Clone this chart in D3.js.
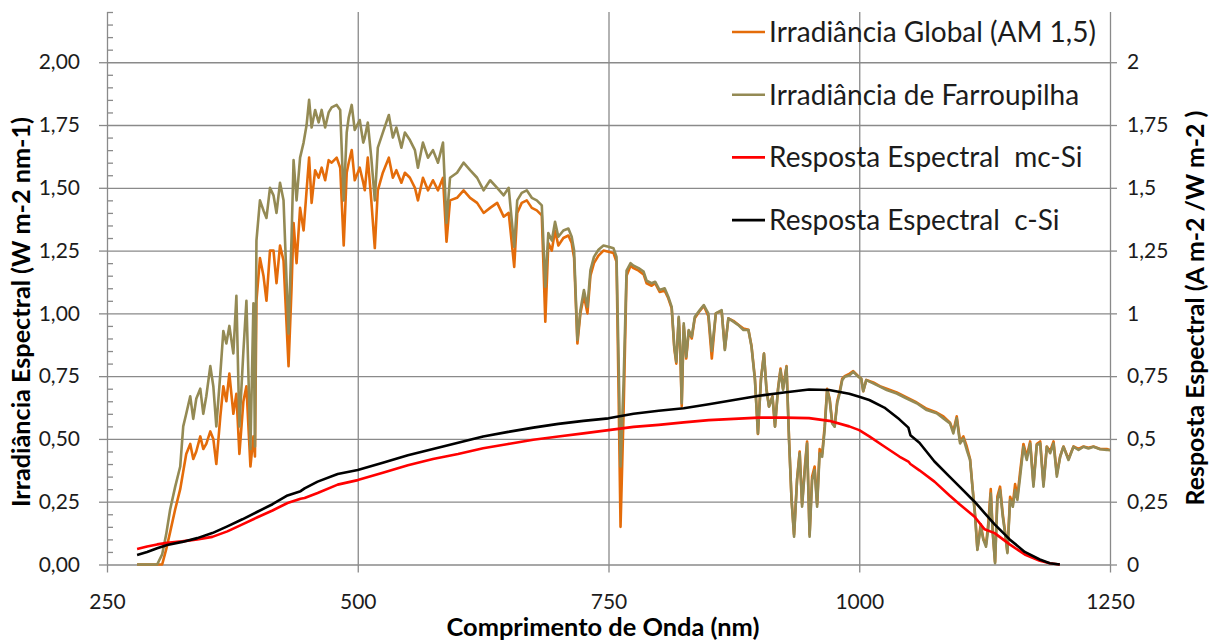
<!DOCTYPE html>
<html><head><meta charset="utf-8">
<script src="https://cdn.jsdelivr.net/npm/d3@7/dist/d3.min.js"></script>
<style>
html,body{margin:0;padding:0;background:#fff;}
svg{display:block;font-family:Lato,"Open Sans",sans-serif;}
</style></head><body>
<svg id="chart" width="1216" height="640"></svg>
<script>
// ---------- DATA ----------
const wavelengths = [
280, 290, 300, 305, 309, 313, 318, 323, 326, 329,
333, 336, 339, 343, 346, 349, 353, 356, 359, 363,
366, 369, 372, 376, 379, 382, 386, 389, 393, 396,
397.5, 399, 402.5, 406, 409, 412.5, 416, 419, 422.5, 426,
431, 434, 436, 439, 442.5, 446, 449, 451.5, 454, 457.5,
461, 464, 467.5, 471, 474, 479, 482.5, 486, 489, 491,
494, 497, 502, 505.5, 507, 510, 513.5, 517, 520, 525,
531, 535, 538.5, 543.5, 547, 552, 557, 560, 565, 570,
575, 580, 585, 588.5, 592, 599, 605.5, 612, 619, 625.5,
632, 639, 645.5, 650.5, 656, 659, 663.5, 668.5, 673.5, 678.5,
683.5, 687, 690, 693.5, 696.7, 700, 705, 710, 713.3, 715.7,
719, 722, 725.5, 729, 732, 735.5, 740, 745, 750, 755,
758, 760, 762, 765, 768, 772, 775, 780, 785, 788,
793, 796.5, 801, 806, 809.6, 813, 815.6, 817.6, 820, 821.5,
823, 825, 827.5, 830, 833, 836, 841, 845, 849.5, 853,
857, 862.8, 866, 869.5, 874.5, 879.5, 884.5, 889.5, 892.6, 896,
899, 902, 905, 907.5, 910, 913.5, 916, 919, 921.5, 924,
927.5, 930, 932.5, 935, 938, 940.6, 943, 946, 948, 950.5,
953, 955.5, 958, 960.5, 963, 965.5, 968, 970.5, 973, 975.5,
978, 980.5, 983, 985.5, 990.5, 994, 999, 1002, 1004, 1007,
1014, 1020.6, 1027.4, 1037.4, 1047.3, 1057.3, 1067.3, 1077.2, 1083.9, 1090.5,
1093.8, 1097.2, 1100.5, 1103.8, 1107.2, 1110.5, 1113.1, 1115.5, 1117.8, 1121.1,
1123.8, 1126.4, 1128.8, 1131.1, 1133.1, 1135.4, 1137.7, 1140.4, 1143.1, 1145.4,
1147.7, 1150.4, 1153.1, 1155.4, 1157.7, 1160.4, 1163.7, 1167, 1170.4, 1173.7,
1177, 1180.4, 1183.7, 1187, 1190.3, 1193.7, 1197, 1200.3, 1203.6, 1208.6,
1213.6, 1218.6, 1223.6, 1228.5, 1233.5, 1240.2, 1246.8, 1250
];
const irrGlobalAM15 = [
0, 0, 0, 0, 0.06, 0.13, 0.22, 0.30, 0.37, 0.44,
0.48, 0.42, 0.45, 0.51, 0.46, 0.48, 0.53, 0.50, 0.40, 0.59,
0.71, 0.65, 0.76, 0.60, 0.68, 0.44, 0.65, 0.71, 0.39, 0.51,
0.43, 1.05, 1.22, 1.15, 1.05, 1.25, 1.25, 1.12, 1.27, 1.21,
0.79, 1.10, 1.36, 1.20, 1.42, 1.33, 1.49, 1.62, 1.44, 1.57,
1.54, 1.58, 1.53, 1.61, 1.60, 1.62, 1.58, 1.27, 1.56, 1.60,
1.65, 1.53, 1.58, 1.52, 1.49, 1.62, 1.45, 1.26, 1.49, 1.56,
1.62, 1.54, 1.57, 1.52, 1.56, 1.54, 1.50, 1.45, 1.54, 1.49,
1.53, 1.49, 1.54, 1.285, 1.45, 1.46, 1.49, 1.46, 1.44, 1.40,
1.42, 1.44, 1.385, 1.40, 1.185, 1.40, 1.44, 1.45, 1.42, 1.41,
1.39, 0.967, 1.28, 1.25, 1.33, 1.27, 1.30, 1.31, 1.28, 1.22,
0.88, 1.0, 1.07, 1.0, 1.15, 1.20, 1.23, 1.25, 1.245, 1.24,
1.205, 0.70, 0.15, 0.60, 1.15, 1.19, 1.18, 1.17, 1.155, 1.12,
1.11, 1.12, 1.085, 1.09, 1.06, 1.02, 0.86, 0.80, 0.98, 0.86,
0.63, 0.95, 0.82, 0.93, 0.90, 0.98, 1.01, 1.03, 0.99, 0.82,
1.0, 1.01, 0.86, 0.98, 0.97, 0.955, 0.94, 0.935, 0.87, 0.74,
0.52, 0.74, 0.84, 0.70, 0.63, 0.67, 0.55, 0.70, 0.78, 0.70,
0.79, 0.50, 0.26, 0.12, 0.34, 0.45, 0.24, 0.40, 0.49, 0.12,
0.35, 0.39, 0.24, 0.46, 0.44, 0.55, 0.70, 0.66, 0.57, 0.55,
0.65, 0.69, 0.74, 0.75, 0.76, 0.77, 0.75, 0.74, 0.69, 0.735,
0.725, 0.71, 0.70, 0.685, 0.665, 0.645, 0.62, 0.605, 0.59, 0.565,
0.53, 0.59, 0.49, 0.51, 0.47, 0.42, 0.30, 0.20, 0.06, 0.16,
0.10, 0.08, 0.17, 0.30, 0.13, 0.01, 0.27, 0.31, 0.20, 0.13,
0.05, 0.27, 0.24, 0.32, 0.27, 0.37, 0.48, 0.43, 0.49, 0.32,
0.48, 0.49, 0.32, 0.47, 0.45, 0.49, 0.36, 0.43, 0.47, 0.42,
0.47, 0.46, 0.47, 0.465, 0.47, 0.46, 0.46, 0.455
];
const irrFarroupilha = [
0, 0, 0, 0.04, 0.12, 0.22, 0.31, 0.39, 0.55, 0.60,
0.67, 0.58, 0.66, 0.70, 0.60, 0.67, 0.79, 0.71, 0.55, 0.76,
0.93, 0.88, 0.95, 0.84, 1.07, 0.55, 0.85, 1.05, 0.46, 1.04,
0.47, 1.29, 1.45, 1.41, 1.38, 1.50, 1.47, 1.40, 1.52, 1.45,
0.92, 1.30, 1.61, 1.45, 1.62, 1.68, 1.75, 1.85, 1.74, 1.81,
1.76, 1.81, 1.74, 1.80, 1.82, 1.83, 1.81, 1.45, 1.72, 1.78,
1.83, 1.73, 1.77, 1.68, 1.70, 1.76, 1.62, 1.45, 1.66, 1.72,
1.79, 1.70, 1.74, 1.66, 1.72, 1.69, 1.65, 1.58, 1.68, 1.62,
1.65, 1.60, 1.68, 1.36, 1.54, 1.56, 1.60, 1.57, 1.54, 1.49,
1.53, 1.50, 1.47, 1.50, 1.265, 1.45, 1.48, 1.49, 1.46, 1.45,
1.43, 1.106, 1.32, 1.29, 1.365, 1.305, 1.33, 1.338, 1.305, 1.25,
0.894, 1.013, 1.093, 1.026, 1.172, 1.225, 1.253, 1.27, 1.265, 1.259,
1.225, 0.827, 0.39, 0.72, 1.17, 1.20, 1.19, 1.18, 1.166, 1.13,
1.12, 1.126, 1.093, 1.10, 1.066, 1.026, 0.867, 0.807, 0.986, 0.867,
0.642, 0.96, 0.827, 0.934, 0.907, 0.986, 1.013, 1.033, 1.0, 0.85,
1.0, 1.013, 0.854, 0.98, 0.967, 0.953, 0.934, 0.934, 0.867, 0.734,
0.522, 0.734, 0.84, 0.695, 0.628, 0.668, 0.549, 0.695, 0.774, 0.695,
0.787, 0.496, 0.257, 0.111, 0.336, 0.443, 0.23, 0.389, 0.482, 0.111,
0.336, 0.376, 0.23, 0.443, 0.429, 0.535, 0.695, 0.655, 0.562, 0.549,
0.642, 0.681, 0.734, 0.748, 0.754, 0.767, 0.748, 0.74, 0.69, 0.734,
0.721, 0.708, 0.695, 0.681, 0.661, 0.642, 0.615, 0.602, 0.582, 0.562,
0.522, 0.582, 0.482, 0.502, 0.456, 0.416, 0.297, 0.19, 0.058, 0.15,
0.098, 0.071, 0.15, 0.283, 0.124, 0.005, 0.257, 0.297, 0.19, 0.124,
0.045, 0.257, 0.23, 0.297, 0.257, 0.35, 0.469, 0.416, 0.482, 0.31,
0.476, 0.482, 0.31, 0.469, 0.443, 0.482, 0.35, 0.429, 0.469, 0.416,
0.469, 0.456, 0.469, 0.462, 0.469, 0.459, 0.456, 0.456
];
const respWavelengths = [
280, 290, 300, 310, 325, 340, 355, 370, 385, 400,
415, 430, 443, 447, 460, 480, 500, 525, 550, 575,
600, 625, 650, 675, 700, 725, 750, 775, 800, 825,
850, 875, 900, 925, 950, 970, 990, 1000, 1010, 1025,
1040, 1049, 1051, 1060, 1075, 1090, 1100, 1115, 1125, 1135,
1150, 1165, 1180, 1190, 1200
];
const respMcSi = [
0.062, 0.072, 0.08, 0.086, 0.092, 0.1, 0.11, 0.132, 0.16, 0.188,
0.215, 0.245, 0.262, 0.265, 0.285, 0.318, 0.336, 0.365, 0.395, 0.42,
0.44, 0.463, 0.48, 0.497, 0.51, 0.522, 0.535, 0.548, 0.556, 0.566,
0.575, 0.58, 0.585, 0.585, 0.583, 0.572, 0.55, 0.535, 0.51, 0.47,
0.43, 0.41, 0.40, 0.375, 0.33, 0.275, 0.24, 0.19, 0.14, 0.125,
0.08, 0.04, 0.015, 0.005, 0
];
const respCSi = [
0.038, 0.05, 0.065, 0.078, 0.09, 0.105, 0.125, 0.152, 0.18, 0.21,
0.24, 0.275, 0.292, 0.303, 0.33, 0.36, 0.376, 0.405, 0.435, 0.46,
0.485, 0.51, 0.528, 0.545, 0.56, 0.572, 0.582, 0.6, 0.612, 0.622,
0.638, 0.655, 0.672, 0.685, 0.697, 0.695, 0.68, 0.668, 0.655, 0.625,
0.578, 0.545, 0.515, 0.485, 0.41, 0.35, 0.31, 0.25, 0.205, 0.16,
0.1, 0.05, 0.02, 0.005, 0
];
const xTickValues = [250, 500, 750, 1000, 1250];
const xTickLabels = ["250", "500", "750", "1000", "1250"];
const yTickValues = [0, 0.25, 0.5, 0.75, 1, 1.25, 1.5, 1.75, 2];
const yLeftLabels = ["0,00", "0,25", "0,50", "0,75", "1,00", "1,25", "1,50", "1,75", "2,00"];
const yRightLabels = ["0", "0,25", "0,5", "0,75", "1", "1,25", "1,5", "1,75", "2"];
const seriesNames = ["Irradiância Global (AM 1,5)", "Irradiância de Farroupilha", "Resposta Espectral  mc-Si", "Resposta Espectral  c-Si"];
const xTitle = "Comprimento de Onda (nm)";
const yLeftTitle = "Irradiância Espectral (W m-2 nm-1)";
const yRightTitle = "Resposta Espectral (A m-2 /W m-2 )";

// ---------- STYLE / LAYOUT ----------
const colors = ["#E46C0A", "#948A54", "#FF0000", "#000000"];
const plotL = 107, plotR = 1110, plotT = 12, plotB = 564.5;
const gridColor = "#8a8a8a";
const textColor = "#1c1c1c";

const svg = d3.select("#chart");
const x = d3.scaleLinear().domain([250, 1250]).range([plotL, plotR]);
const y = d3.scaleLinear().domain([0, 2.2]).range([plotB, plotT]);

function styleAxis(g) {
  g.selectAll("path.domain").remove();
  g.selectAll(".tick line").attr("stroke", gridColor).attr("stroke-width", 1.3);
  g.selectAll(".tick text").attr("fill", textColor).attr("font-size", 21).attr("font-family", "Lato, 'Open Sans', sans-serif");
}

// horizontal gridlines
svg.append("g").attr("transform", `translate(${plotL},0)`)
  .call(d3.axisLeft(y).tickValues(yTickValues).tickSize(-(plotR - plotL)).tickFormat(""))
  .call(styleAxis);
// left axis ticks + labels
svg.append("g").attr("transform", `translate(${plotL},0)`)
  .call(d3.axisLeft(y).tickValues(yTickValues).tickSize(8).tickPadding(19).tickFormat((d, i) => yLeftLabels[i]))
  .call(styleAxis);
// left minor ticks (inward)
const yMinor = d3.range(0.05, 2.2001, 0.05).filter(v => Math.abs(v / 0.25 - Math.round(v / 0.25)) > 1e-6);
svg.append("g").attr("transform", `translate(${plotL},0)`)
  .call(d3.axisLeft(y).tickValues(yMinor).tickSize(-6).tickFormat(""))
  .call(styleAxis);
// right axis
svg.append("g").attr("transform", `translate(${plotR},0)`)
  .call(d3.axisRight(y).tickValues(yTickValues).tickSize(7).tickPadding(10).tickFormat((d, i) => yRightLabels[i]))
  .call(styleAxis);
// vertical gridlines
svg.append("g").attr("transform", `translate(0,${plotB})`)
  .call(d3.axisBottom(x).tickValues(xTickValues).tickSize(-(plotB - plotT)).tickFormat(""))
  .call(styleAxis);
// bottom axis ticks + labels
svg.append("g").attr("transform", `translate(0,${plotB})`)
  .call(d3.axisBottom(x).tickValues(xTickValues).tickSize(8).tickPadding(22).tickFormat((d, i) => xTickLabels[i]))
  .call(styleAxis);

// ---------- SERIES ----------
const irrData = [irrGlobalAM15, irrFarroupilha].map(vals => wavelengths.map((w, i) => [w, vals[i]]));
const respData = [respMcSi, respCSi].map(vals => respWavelengths.map((w, i) => [w, vals[i]]));
const allSeries = [irrData[0], irrData[1], respData[0], respData[1]];
const line = d3.line().x(d => x(d[0])).y(d => y(d[1]));
svg.append("g").selectAll("path").data(allSeries).join("path")
  .attr("d", line).attr("fill", "none")
  .attr("stroke", (d, i) => colors[i])
  .attr("stroke-width", 2.6)
  .attr("stroke-linejoin", "round");

// ---------- LEGEND ----------
const legend = svg.append("g");
seriesNames.forEach((name, i) => {
  const ly = 32 + i * 62.7;
  legend.append("line").attr("x1", 732).attr("x2", 765).attr("y1", ly).attr("y2", ly)
    .attr("stroke", colors[i]).attr("stroke-width", 2.6);
  legend.append("text").attr("class", "lg").attr("x", 769).attr("y", ly).attr("dy", "0.36em")
    .attr("fill", textColor).attr("font-size", 26).style("white-space", "pre").text(name);
});
function fit(sel, target) {
  const fs = parseFloat(sel.attr("font-size"));
  const w = sel.node().getComputedTextLength();
  const nfs = fs * target / w;
  sel.attr("font-size", nfs);
  return nfs;
}
const lgTexts = legend.selectAll("text.lg");
const lfs = fit(d3.select(lgTexts.nodes()[0]), 327);
lgTexts.attr("font-size", lfs);

// ---------- TITLES ----------
const xt = svg.append("text").attr("x", 603).attr("y", 636).attr("text-anchor", "middle")
  .attr("font-weight", "bold").attr("font-size", 20).attr("fill", "#000").text(xTitle);
fit(xt, 313);
const ylt = svg.append("text").attr("transform", "translate(30,312) rotate(-90)").attr("text-anchor", "middle")
  .attr("font-weight", "bold").attr("font-size", 20).attr("fill", "#000").text(yLeftTitle);
fit(ylt, 390);
const yrt = svg.append("text").attr("transform", "translate(1204,308) rotate(-90)").attr("text-anchor", "middle")
  .attr("font-weight", "bold").attr("font-size", 20).attr("fill", "#000").text(yRightTitle);
fit(yrt, 395);
</script>
</body></html>
